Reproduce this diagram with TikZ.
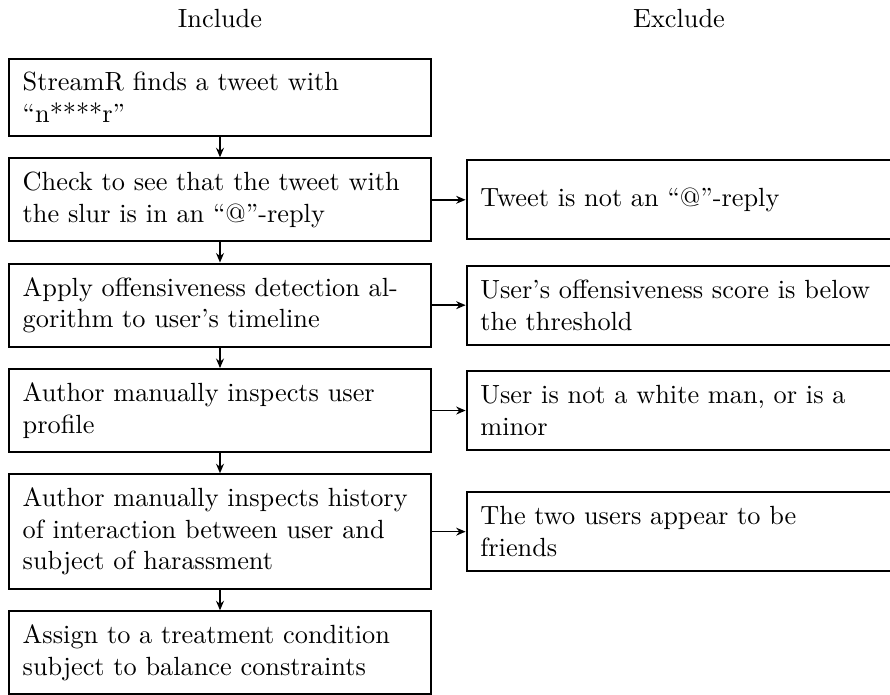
\documentclass[tikz,border=0pt]{standalone}
\usetikzlibrary{positioning,arrows.meta}
\begin{document}
\begin{tikzpicture}[x=0.3802pt,y=-0.3802pt,
  box/.style={draw,line width=0.8pt,text width=150pt,align=left,inner sep=5.2pt},
  exbox/.style={box,text width=153pt,minimum height=30pt},
  arr/.style={-{Stealth[length=3.6pt,width=3pt]},line width=0.6pt},
  node distance=7.7pt]
\useasboundingbox (0,0) rectangle (890,694);
\clip (0,0) rectangle (890,694);
\node[anchor=base] (inc) at (220,27) {Include};
\node[anchor=base] (exc) at (679,27) {Exclude};
\node[box,anchor=north] (b1) at (220,57.5) {StreamR finds a tweet with\\“n****r”};
\node[box,below=of b1] (b2) {Check to see that the tweet with\\the slur is in an “@”-reply};
\node[box,below=of b2] (b3) {Apply offensiveness detection al-\\gorithm to user’s timeline};
\node[box,below=of b3] (b4) {Author manually inspects user\\profile};
\node[box,below=of b4] (b5) {Author manually inspects history\\of interaction between user and\\subject of harassment};
\node[box,below=of b5] (b6) {Assign to a treatment condition\\subject to balance constraints};
\node[exbox,right=12.8pt of b2] (r2) {Tweet is not an “@”-reply};
\node[exbox,right=12.8pt of b3] (r3) {User’s offensiveness score is below\\the threshold};
\node[exbox,right=12.8pt of b4] (r4) {User is not a white man, or is a\\minor};
\node[exbox,right=12.8pt of b5] (r5) {The two users appear to be\\friends};
\draw[arr] (b1) -- (b2);
\draw[arr] (b2) -- (b3);
\draw[arr] (b3) -- (b4);
\draw[arr] (b4) -- (b5);
\draw[arr] (b5) -- (b6);
\draw[arr] (b2) -- (r2);
\draw[arr] (b3) -- (r3);
\draw[arr] (b4) -- (r4);
\draw[arr] (b5) -- (r5);
\end{tikzpicture}
\end{document}
